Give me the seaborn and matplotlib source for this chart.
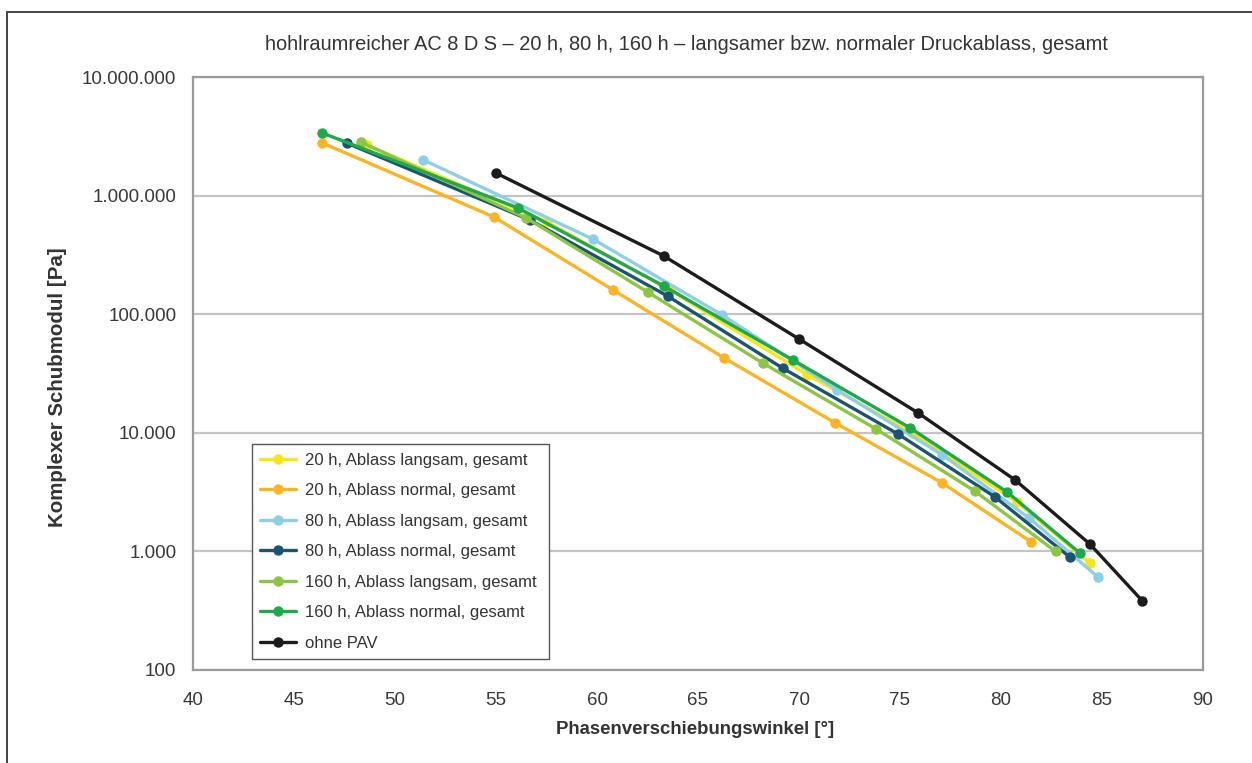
import numpy as np
import pandas as pd
import matplotlib
matplotlib.use("Agg")
import matplotlib.pyplot as plt
from matplotlib.lines import Line2D
from matplotlib.ticker import FuncFormatter, FixedLocator
import seaborn as sns

# Phase angle [deg] and complex shear modulus [Pa] per series
x_20h_langsam = [48.6, 57.5, 63.6, 70.4, 75.6, 80.8, 84.4]
y_20h_langsam = [2.67e6, 6.0e5, 1.6e5, 3.1e4, 1.0e4, 2.6e3, 800]

x_20h_normal = [46.4, 54.9, 60.8, 66.3, 71.8, 77.1, 81.5]
y_20h_normal = [2.78e6, 6.6e5, 1.6e5, 4.27e4, 1.21e4, 3.77e3, 1.2e3]

x_80h_langsam = [51.4, 59.8, 66.2, 71.9, 77.1, 81.4, 84.8]
y_80h_langsam = [2.0e6, 4.3e5, 9.85e4, 2.3e4, 6.5e3, 1.91e3, 608]

x_80h_normal = [47.6, 56.7, 63.5, 69.2, 74.9, 79.7, 83.4]
y_80h_normal = [2.78e6, 6.2e5, 1.42e5, 3.5e4, 9.77e3, 2.88e3, 897]

x_160h_langsam = [48.3, 56.5, 62.5, 68.2, 73.8, 78.7, 82.7]
y_160h_langsam = [2.83e6, 6.47e5, 1.54e5, 3.88e4, 1.08e4, 3.23e3, 1.0e3]

x_160h_normal = [46.4, 56.1, 63.3, 69.7, 75.5, 80.3, 83.9]
y_160h_normal = [3.37e6, 7.86e5, 1.73e5, 4.11e4, 1.1e4, 3.17e3, 970]

x_ohne_pav = [55.0, 63.3, 70.0, 75.9, 80.7, 84.4, 87.0]
y_ohne_pav = [1.55e6, 3.1e5, 6.18e4, 1.47e4, 4.0e3, 1153, 382]

series_names = [
    "20 h, Ablass langsam, gesamt",
    "20 h, Ablass normal, gesamt",
    "80 h, Ablass langsam, gesamt",
    "80 h, Ablass normal, gesamt",
    "160 h, Ablass langsam, gesamt",
    "160 h, Ablass normal, gesamt",
    "ohne PAV",
]
series_x = [x_20h_langsam, x_20h_normal, x_80h_langsam, x_80h_normal,
            x_160h_langsam, x_160h_normal, x_ohne_pav]
series_y = [y_20h_langsam, y_20h_normal, y_80h_langsam, y_80h_normal,
            y_160h_langsam, y_160h_normal, y_ohne_pav]
series_colors = ["#f7e51a", "#fbb424", "#8fcfe6", "#1c5370",
                 "#8cc541", "#20a94b", "#1c1c1c"]

y_ticks = [1e2, 1e3, 1e4, 1e5, 1e6, 1e7]
x_ticks = [40, 45, 50, 55, 60, 65, 70, 75, 80, 85, 90]

title = "hohlraumreicher AC 8 D S \u2013 20 h, 80 h, 160 h \u2013 langsamer bzw. normaler Druckablass, gesamt"
x_label = "Phasenverschiebungswinkel [°]"
y_label = "Komplexer Schubmodul [Pa]"

frames = []
for name, xs, ys in zip(series_names, series_x, series_y):
    frames.append(pd.DataFrame({"Serie": name, "Winkel": xs, "Modul": ys}))
df = pd.concat(frames, ignore_index=True)

sns.set_theme(style="white")
plt.rcParams["font.family"] = ["Liberation Sans", "DejaVu Sans"]

fig = plt.figure(figsize=(12.52, 7.63), dpi=100)
ax = fig.add_axes([193 / 1252, 1 - 670 / 763, (1203 - 193) / 1252, (670 - 77) / 763])

for name, color in zip(series_names, series_colors):
    sub = df[df["Serie"] == name]
    sns.lineplot(data=sub, x="Winkel", y="Modul", sort=False, ax=ax,
                 color=color, linewidth=2.4, marker="o", markersize=7.5,
                 markeredgewidth=0, label=name, estimator=None)

ax.set_yscale("log")
ax.set_xlim(40, 90)
ax.set_ylim(100, 1e7)
ax.xaxis.set_major_locator(FixedLocator(x_ticks))
ax.yaxis.set_major_locator(FixedLocator(y_ticks))
ax.yaxis.set_minor_locator(FixedLocator([]))
ax.yaxis.set_major_formatter(FuncFormatter(lambda v, p: f"{int(round(v)):,}".replace(",", ".")))
ax.xaxis.set_major_formatter(FuncFormatter(lambda v, p: f"{int(v)}"))
ax.tick_params(axis="both", length=0, labelsize=13.5, colors="#383838")
ax.tick_params(axis="y", pad=12)
ax.tick_params(axis="x", pad=16)
ax.grid(axis="y", color="#c4c4c8", linewidth=1.6)
ax.grid(axis="x", visible=False)
ax.set_axisbelow(True)
for sp in ax.spines.values():
    sp.set_color("#9a9a9e")
    sp.set_linewidth(1.6)
    sp.set_visible(True)

ax.set_xlabel(x_label, fontsize=13.4, fontweight="bold", color="#333333")
ax.set_ylabel(y_label, fontsize=14.8, fontweight="bold", color="#333333")
ax.xaxis.set_label_coords((695 - 193) / 1010, -0.086)
ax.yaxis.set_label_coords(-0.125, (670 - 387) / 593)

fig.text(686 / 1252, 1 - 44 / 763, title, ha="center", va="center",
         fontsize=14.4, color="#333333")

leg = ax.legend(loc="lower left", bbox_to_anchor=((252 - 193) / 1010, (670 - 659) / 593,
                                               (549 - 252) / 1010, (659 - 444) / 593),
                mode="expand", frameon=True, fancybox=False, fontsize=12,
                handlelength=2.15, handletextpad=0.55, labelspacing=0.93,
                borderpad=0.5, borderaxespad=0)
leg.get_frame().set_edgecolor("#555555")
leg.get_frame().set_linewidth(1.0)
leg.get_frame().set_facecolor("white")
leg.get_frame().set_alpha(1)
for t in leg.get_texts():
    t.set_color("#333333")

# outer frame lines (left and top)
fig.add_artist(Line2D([7 / 1252, 7 / 1252], [0, 1 - 12 / 763],
                      transform=fig.transFigure, color="#444444", linewidth=1.4))
fig.add_artist(Line2D([7 / 1252, 1], [1 - 12 / 763, 1 - 12 / 763],
                      transform=fig.transFigure, color="#444444", linewidth=1.4))

fig.savefig("out.png", dpi=100, facecolor="white")
